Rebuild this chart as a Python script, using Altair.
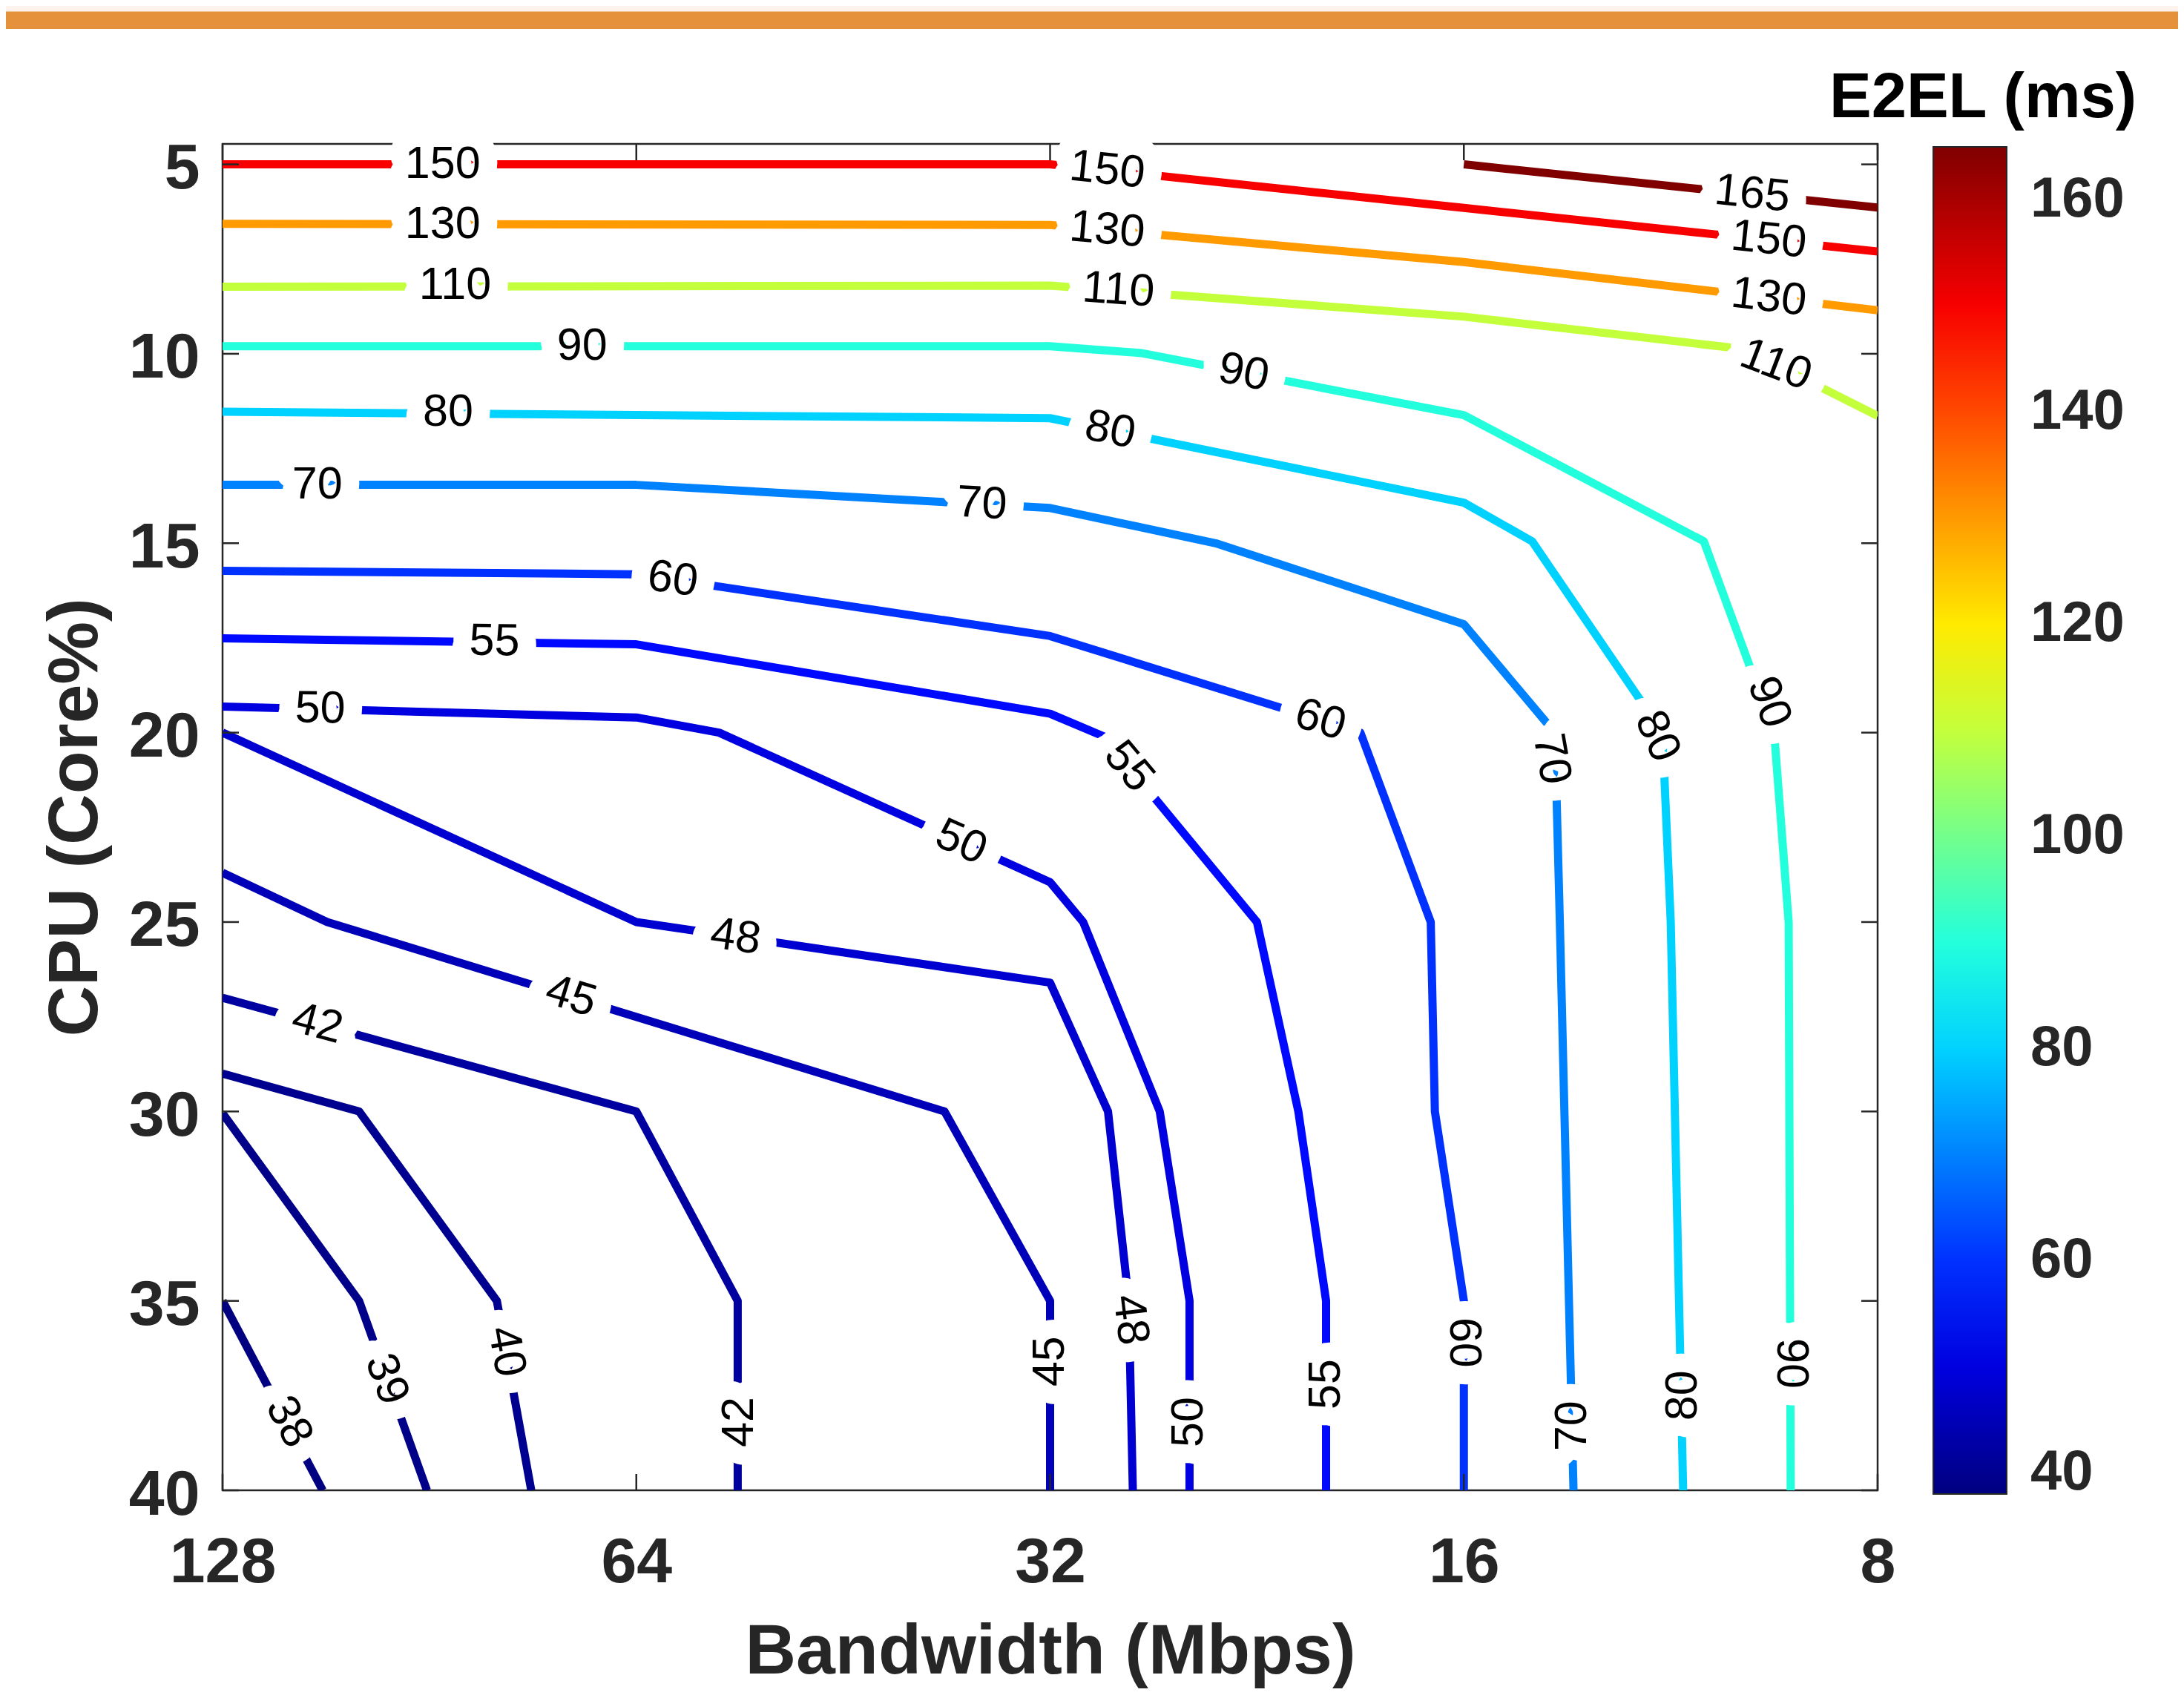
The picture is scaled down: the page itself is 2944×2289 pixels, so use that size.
import altair as alt
import pandas as pd

FONT = "Liberation Sans"

# ---- contour lines: x = log2(bandwidth in Mbps), y = CPU (Core%) ----
lev_165_x = [4, 3];                    lev_165_y = [5.0, 6.14]
lev_150_x = [7, 5, 4, 3];              lev_150_y = [5.0, 5.0, 6.15, 7.3]
lev_130_x = [7, 5, 4, 3];              lev_130_y = [6.57, 6.6, 7.58, 8.85]
lev_110_x = [7, 5, 4, 3.32, 3];        lev_110_y = [8.23, 8.2, 9.02, 9.88, 11.64]
lev_90_x = [7, 5, 4.78, 4, 3.42, 3.25, 3.215, 3.21]
lev_90_y = [9.8, 9.8, 9.98, 11.62, 14.95, 20.0, 25.0, 40.0]
lev_80_x = [7, 5, 4, 3.835, 3.52, 3.5, 3.47]
lev_80_y = [11.53, 11.7, 13.93, 14.95, 20.0, 25.0, 40.0]
lev_70_x = [7, 6, 5, 4.6, 4, 3.78, 3.768, 3.735]
lev_70_y = [13.46, 13.46, 14.07, 15.0, 17.14, 20.0, 25.0, 40.0]
lev_60_x = [7, 6, 5, 4.25, 4.08, 4.07, 4.0, 4.0]
lev_60_y = [15.73, 15.82, 17.45, 20.0, 25.0, 30.0, 35.0, 40.0]
lev_55_x = [7, 6, 5, 4.87, 4.5, 4.4, 4.333, 4.333]
lev_55_y = [17.51, 17.67, 19.5, 20.1, 25.0, 30.0, 35.0, 40.0]
lev_50_x = [7, 6, 5.8, 5.0, 4.92, 4.735, 4.663, 4.663]
lev_50_y = [19.31, 19.6, 20.0, 23.95, 25.0, 30.0, 35.0, 40.0]
lev_48_x = [7, 6, 5, 4.86, 4.81, 4.8]
lev_48_y = [20.0, 25.0, 26.6, 30.0, 35.0, 40.0]
lev_45_x = [7, 6.747, 5.255, 5.0, 5.0]
lev_45_y = [23.7, 25.0, 30.0, 35.0, 40.0]
lev_42_x = [7, 6, 5.755, 5.755];       lev_42_y = [27.0, 30.0, 35.0, 40.0]
lev_40_x = [7, 6.67, 6.337, 6.254];    lev_40_y = [29.0, 30.0, 35.0, 40.0]
lev_39_x = [7, 6.67, 6.506];           lev_39_y = [30.05, 35.0, 40.0]
lev_38_x = [7, 6.758];                 lev_38_y = [35.0, 40.0]

contours = [
    (165, lev_165_x, lev_165_y), (150, lev_150_x, lev_150_y),
    (130, lev_130_x, lev_130_y), (110, lev_110_x, lev_110_y),
    (90, lev_90_x, lev_90_y), (80, lev_80_x, lev_80_y),
    (70, lev_70_x, lev_70_y), (60, lev_60_x, lev_60_y),
    (55, lev_55_x, lev_55_y), (50, lev_50_x, lev_50_y),
    (48, lev_48_x, lev_48_y), (45, lev_45_x, lev_45_y),
    (42, lev_42_x, lev_42_y), (40, lev_40_x, lev_40_y),
    (39, lev_39_x, lev_39_y), (38, lev_38_x, lev_38_y),
]

# ---- inline contour labels ----
label_text = ["150", "130", "110", "90", "80", "70", "60", "55", "50", "48", "45", "42",
              "150", "130", "110", "90", "80", "70", "60", "55", "50",
              "165", "150", "130", "110", "90", "80", "70",
              "38", "39", "40", "42", "45", "48", "50", "55", "60", "70", "80", "90"]
label_x = [6.468, 6.468, 6.438, 6.131, 6.455, 6.771, 5.912, 6.343, 6.764, 5.76, 6.158, 6.771,
           4.862, 4.862, 4.835, 4.532, 4.855, 5.165, 4.347, 4.81, 5.215,
           3.303, 3.263, 3.263, 3.246, 3.263, 3.533, 3.789,
           6.84, 6.604, 6.315, 5.75, 5.0, 4.807, 4.663, 4.333, 4.0, 3.736, 3.47, 3.21]
label_y = [5.0, 6.6, 8.2, 9.8, 11.55, 13.46, 15.96, 17.6, 19.38, 25.4, 26.97, 27.69,
           5.16, 6.74, 8.33, 10.5, 12.02, 13.97, 19.67, 20.9, 22.9,
           5.79, 7.0, 8.52, 10.3, 19.2, 20.1, 20.7,
           38.2, 37.07, 36.34, 38.2, 36.6, 35.5, 38.2, 37.2, 36.1, 38.3, 37.5, 36.65]
label_angle = [0, 0, 0, 0, 0, 0, 8, 1, 1, 8, 17, 15,
               6, 5, 4, 11, 11, 3, 17, 50, 24,
               6, 6, 6.6, 21, 70, 66, 80,
               62, 70, 80, 270, 270, 83, 270, 270, 90, 270, 270, 90]

x_ticks = [128, 64, 32, 16, 8]
y_ticks = [5, 10, 15, 20, 25, 30, 35, 40]
legend_ticks = [40, 60, 80, 100, 120, 140, 160]

jet_domain = [38, 53.875, 85.625, 117.375, 149.125, 165]
jet_range = ["#000080", "#0000ff", "#00ffff", "#ffff00", "#ff0000", "#800000"]

rows = []
for lev, xs, ys in contours:
    for i, (xv, yv) in enumerate(zip(xs, ys)):
        rows.append({"level": lev, "ord": i, "bw": 2 ** xv, "cpu": yv})
df = pd.DataFrame(rows)

ldf = pd.DataFrame({"text": label_text, "bw": [2 ** v for v in label_x],
                    "cpu": label_y, "angle": label_angle})

W, H = 2231, 1815
x_scale = alt.Scale(type="log", base=2, domain=[8, 128], reverse=True, nice=False)
y_scale = alt.Scale(domain=[4.46, 40], reverse=True, nice=False, zero=False)

x_axis = alt.Axis(values=x_ticks, format="d", grid=False, ticks=False, domain=False,
                  labelFont=FONT, labelFontSize=86, labelFontWeight="bold", labelColor="#262626",
                  labelPadding=55, labelFlush=False, labelOverlap=False,
                  title="Bandwidth (Mbps)", titleFont=FONT, titleFontSize=95, titleFontWeight="bold",
                  titleColor="#262626", titleX=W / 2, titleY=246, titleAlign="center",
                  titleBaseline="alphabetic")
y_axis = alt.Axis(values=y_ticks, grid=False, ticks=False, domain=False,
                  labelFont=FONT, labelFontSize=86, labelFontWeight="bold", labelColor="#262626",
                  labelPadding=31, labelOffset=6, labelFlush=False, labelOverlap=False,
                  title="CPU (Core%)", titleFont=FONT, titleFontSize=95, titleFontWeight="bold",
                  titleColor="#262626", titleX=-170, titleY=H / 2, titleAngle=270,
                  titleAlign="center", titleBaseline="alphabetic")

X = alt.X("bw:Q", scale=x_scale, axis=x_axis)
Y = alt.Y("cpu:Q", scale=y_scale, axis=y_axis)

legend = alt.Legend(orient="none", legendX=2306, legendY=4, direction="vertical",
                    gradientLength=1816, gradientThickness=99, values=legend_ticks,
                    labelFont=FONT, labelFontSize=76, labelFontWeight="bold", labelColor="#262626",
                    labelOffset=32, gradientStrokeColor="#262626", gradientStrokeWidth=2,
                    padding=0, title=None)

lines = alt.Chart(df).mark_line(strokeWidth=11, clip=True, strokeJoin="round").encode(
    x=X, y=Y,
    color=alt.Color("level:Q", scale=alt.Scale(domain=jet_domain, range=jet_range,
                                               interpolate="rgb"), legend=legend),
    detail="level:N",
    order="ord:Q",
)

halo = alt.Chart(ldf).mark_text(font=FONT, fontSize=61, fill="white", stroke="white",
                                strokeWidth=50, strokeJoin="round", align="center",
                                baseline="middle").encode(
    x=X, y=Y, text="text:N", angle=alt.Angle("angle:Q", scale=None),
)
labels = alt.Chart(ldf).mark_text(font=FONT, fontSize=61, color="black", align="center",
                                  baseline="middle").encode(
    x=X, y=Y, text="text:N", angle=alt.Angle("angle:Q", scale=None),
)

xt = pd.DataFrame({"bw": x_ticks})
yt = pd.DataFrame({"cpu": y_ticks})
tick_style = dict(color="#262626", strokeWidth=2.5)
top_ticks = alt.Chart(xt).mark_rule(**tick_style).encode(x=X, y=alt.value(0), y2=alt.value(22))
bottom_ticks = alt.Chart(xt).mark_rule(**tick_style).encode(x=X, y=alt.value(H - 22), y2=alt.value(H))
left_ticks = alt.Chart(yt).mark_rule(**tick_style).encode(y=Y, x=alt.value(0), x2=alt.value(22))
right_ticks = alt.Chart(yt).mark_rule(**tick_style).encode(y=Y, x=alt.value(W - 22), x2=alt.value(W))

one = pd.DataFrame({"a": [0]})
peach = alt.Chart(one).mark_rect(color="#fdf3ec").encode(
    x=alt.value(-300), x2=alt.value(W + 420), y=alt.value(-186), y2=alt.value(-178))
band = alt.Chart(one).mark_rect(color="#e5913b").encode(
    x=alt.value(-300), x2=alt.value(W + 420), y=alt.value(-178.5), y2=alt.value(-155))
cb_title = alt.Chart(one).mark_text(text="E2EL (ms)", font=FONT, fontSize=85, fontWeight="bold",
                                    color="black", align="center", baseline="alphabetic").encode(
    x=alt.value(2373), y=alt.value(-36))

chart = alt.layer(lines, halo, labels, top_ticks, bottom_ticks, left_ticks,
                  right_ticks, peach, band, cb_title).properties(
    width=W, height=H,
    autosize=alt.AutoSizeParams(type="none"),
    padding={"left": 292, "top": 186, "right": 405, "bottom": 270},
    background="white",
).configure_view(stroke="#262626", strokeWidth=2.5)

chart.save("out.html", embed_options={"renderer": "svg", "actions": False})
